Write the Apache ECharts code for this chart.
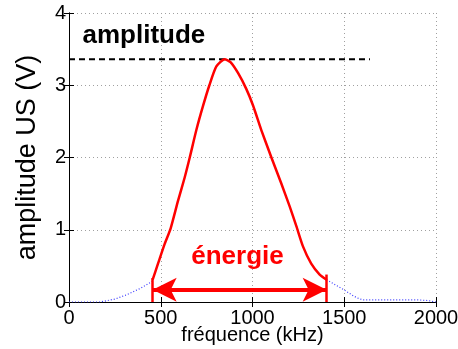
<!DOCTYPE html>
<html>
<head>
<meta charset="utf-8">
<script src="https://cdn.jsdelivr.net/npm/echarts@6/dist/echarts.min.js"></script>
<style>
  html, body { margin: 0; padding: 0; background: #fff; }
  #chart { width: 458px; height: 349px; }
</style>
</head>
<body>
<div id="chart"></div>
<script>
// courbe rouge : bande utile du spectre
const freqRed = [456, 485, 521, 554, 594, 630, 658, 694, 730, 765, 803, 848, 880, 921, 966, 1003, 1048, 1103, 1157, 1203, 1239, 1275, 1320, 1366, 1404];
const ampRed = [0.31, 0.53, 0.8, 1.02, 1.4, 1.72, 2.0, 2.38, 2.71, 3.0, 3.26, 3.36, 3.32, 3.17, 2.95, 2.72, 2.38, 2.0, 1.64, 1.32, 1.05, 0.77, 0.53, 0.38, 0.31];

// spectre complet (pointillés bleus) hors bande
const freqBlue = [0, 100, 169, 250, 314, 390, 456, 930, 1404, 1450, 1504, 1540, 1568, 1600, 1700, 1800, 1900, 1956, 2000];
const ampBlue = [0, 0, 0, 0.04, 0.1, 0.19, 0.29, '-', 0.31, 0.24, 0.16, 0.1, 0.06, 0.03, 0.03, 0.03, 0.03, 0.02, 0];

// niveau max et bornes de la bande
const peakLevel = 3.36;
const dashEnd = 1640;
const bandLow = 456;
const bandHigh = 1404;
const arrowLevel = 0.17;

const xTicks = [0, 500, 1000, 1500, 2000];
const yTicks = [0, 1, 2, 3, 4];

const font = 'Liberation Sans, Arial, sans-serif';

const chart = echarts.init(document.getElementById('chart'), null, { renderer: 'canvas' });

const axisCommon = {
    type: 'value',
    axisLine: { show: true, lineStyle: { color: '#000', width: 1 } },
    axisTick: { show: true, inside: true, length: 5, lineStyle: { color: '#000' } }
};

const option = {
    animation: false,
    backgroundColor: '#fff',
    grid: { left: 69, right: 22, top: 13, bottom: 47, outerBoundsMode: 'none', containLabel: false },
    // titre de l'axe x (le nom d'axe reste bloqué trop haut en v6)
    graphic: [{
        type: 'text',
        x: 252.5,
        y: 335,
        silent: true,
        style: {
            text: 'fréquence (kHz)',
            font: '20px ' + font,
            fill: '#000',
            align: 'center',
            verticalAlign: 'middle'
        }
    }],
    xAxis: [
        {
            ...axisCommon,
            min: xTicks[0], max: xTicks[xTicks.length - 1], interval: 500,
            axisLabel: { fontFamily: font, fontSize: 20, color: '#000', margin: 6, formatter: v => String(v) },
            splitLine: { show: true, lineStyle: { color: '#a0a0a0', type: [1, 3], width: 1 } }
        },
        {
            ...axisCommon,
            position: 'top',
            min: xTicks[0], max: xTicks[xTicks.length - 1], interval: 500,
            axisLabel: { show: false },
            splitLine: { show: false }
        }
    ],
    yAxis: [
        {
            ...axisCommon,
            min: yTicks[0], max: yTicks[yTicks.length - 1], interval: 1,
            name: 'amplitude US (V)',
            nameLocation: 'middle',
            nameGap: 28,
            nameMoveOverlap: false,
            nameTextStyle: { fontFamily: font, fontSize: 27, color: '#000' },
            axisLabel: { fontFamily: font, fontSize: 20, color: '#000', margin: 3, formatter: v => String(v) },
            splitLine: { show: true, lineStyle: { color: '#a0a0a0', type: [1, 3], width: 1 } }
        },
        {
            ...axisCommon,
            position: 'right',
            min: yTicks[0], max: yTicks[yTicks.length - 1], interval: 1,
            axisLabel: { show: false },
            splitLine: { show: false }
        }
    ],
    series: [
        {
            name: 'spectre',
            type: 'line',
            data: freqBlue.map((f, i) => [f, ampBlue[i]]),
            showSymbol: false,
            connectNulls: false,
            lineStyle: { color: '#3838ff', width: 1.2, type: [1, 2] },
            silent: true
        },
        {
            name: 'amplitude',
            type: 'line',
            data: [[0, peakLevel], [dashEnd, peakLevel]],
            showSymbol: false,
            lineStyle: { color: '#000', width: 2, type: [6, 4] },
            silent: true,
            markPoint: {
                silent: true,
                symbol: 'circle',
                symbolSize: 1,
                itemStyle: { color: 'rgba(0,0,0,0)' },
                label: {
                    show: true, position: 'inside',
                    fontFamily: font, fontSize: 26, fontWeight: 'bold', color: '#000'
                },
                data: [{ coord: [408, 3.68], value: 'amplitude' }]
            }
        },
        {
            name: 'énergie',
            type: 'line',
            data: freqRed.map((f, i) => [f, ampRed[i]]),
            showSymbol: false,
            smooth: 0.2,
            clip: false,
            lineStyle: { color: '#ff0000', width: 2.5, join: 'round' },
            silent: true,
            markLine: {
                silent: true,
                animation: false,
                label: { show: false },
                lineStyle: { color: '#ff0000', width: 4, type: 'solid' },
                symbol: ['arrow', 'arrow'],
                symbolSize: [18, 24],
                data: [
                    [{ coord: [bandLow, arrowLevel] }, { coord: [bandHigh, arrowLevel] }],
                    [{ coord: [bandLow, 0], symbol: 'none', lineStyle: { width: 2.5 } },
                     { coord: [bandLow, 0.33], symbol: 'none' }],
                    [{ coord: [bandHigh, 0], symbol: 'none', lineStyle: { width: 2.5 } },
                     { coord: [bandHigh, 0.38], symbol: 'none' }]
                ]
            },
            markPoint: {
                silent: true,
                symbol: 'circle',
                symbolSize: 1,
                itemStyle: { color: 'rgba(0,0,0,0)' },
                label: {
                    show: true, position: 'inside',
                    fontFamily: font, fontSize: 26, fontWeight: 'bold', color: '#ff0000'
                },
                data: [{ coord: [918, 0.62], value: 'énergie' }]
            }
        }
    ]
};

chart.setOption(option);
</script>
</body>
</html>
